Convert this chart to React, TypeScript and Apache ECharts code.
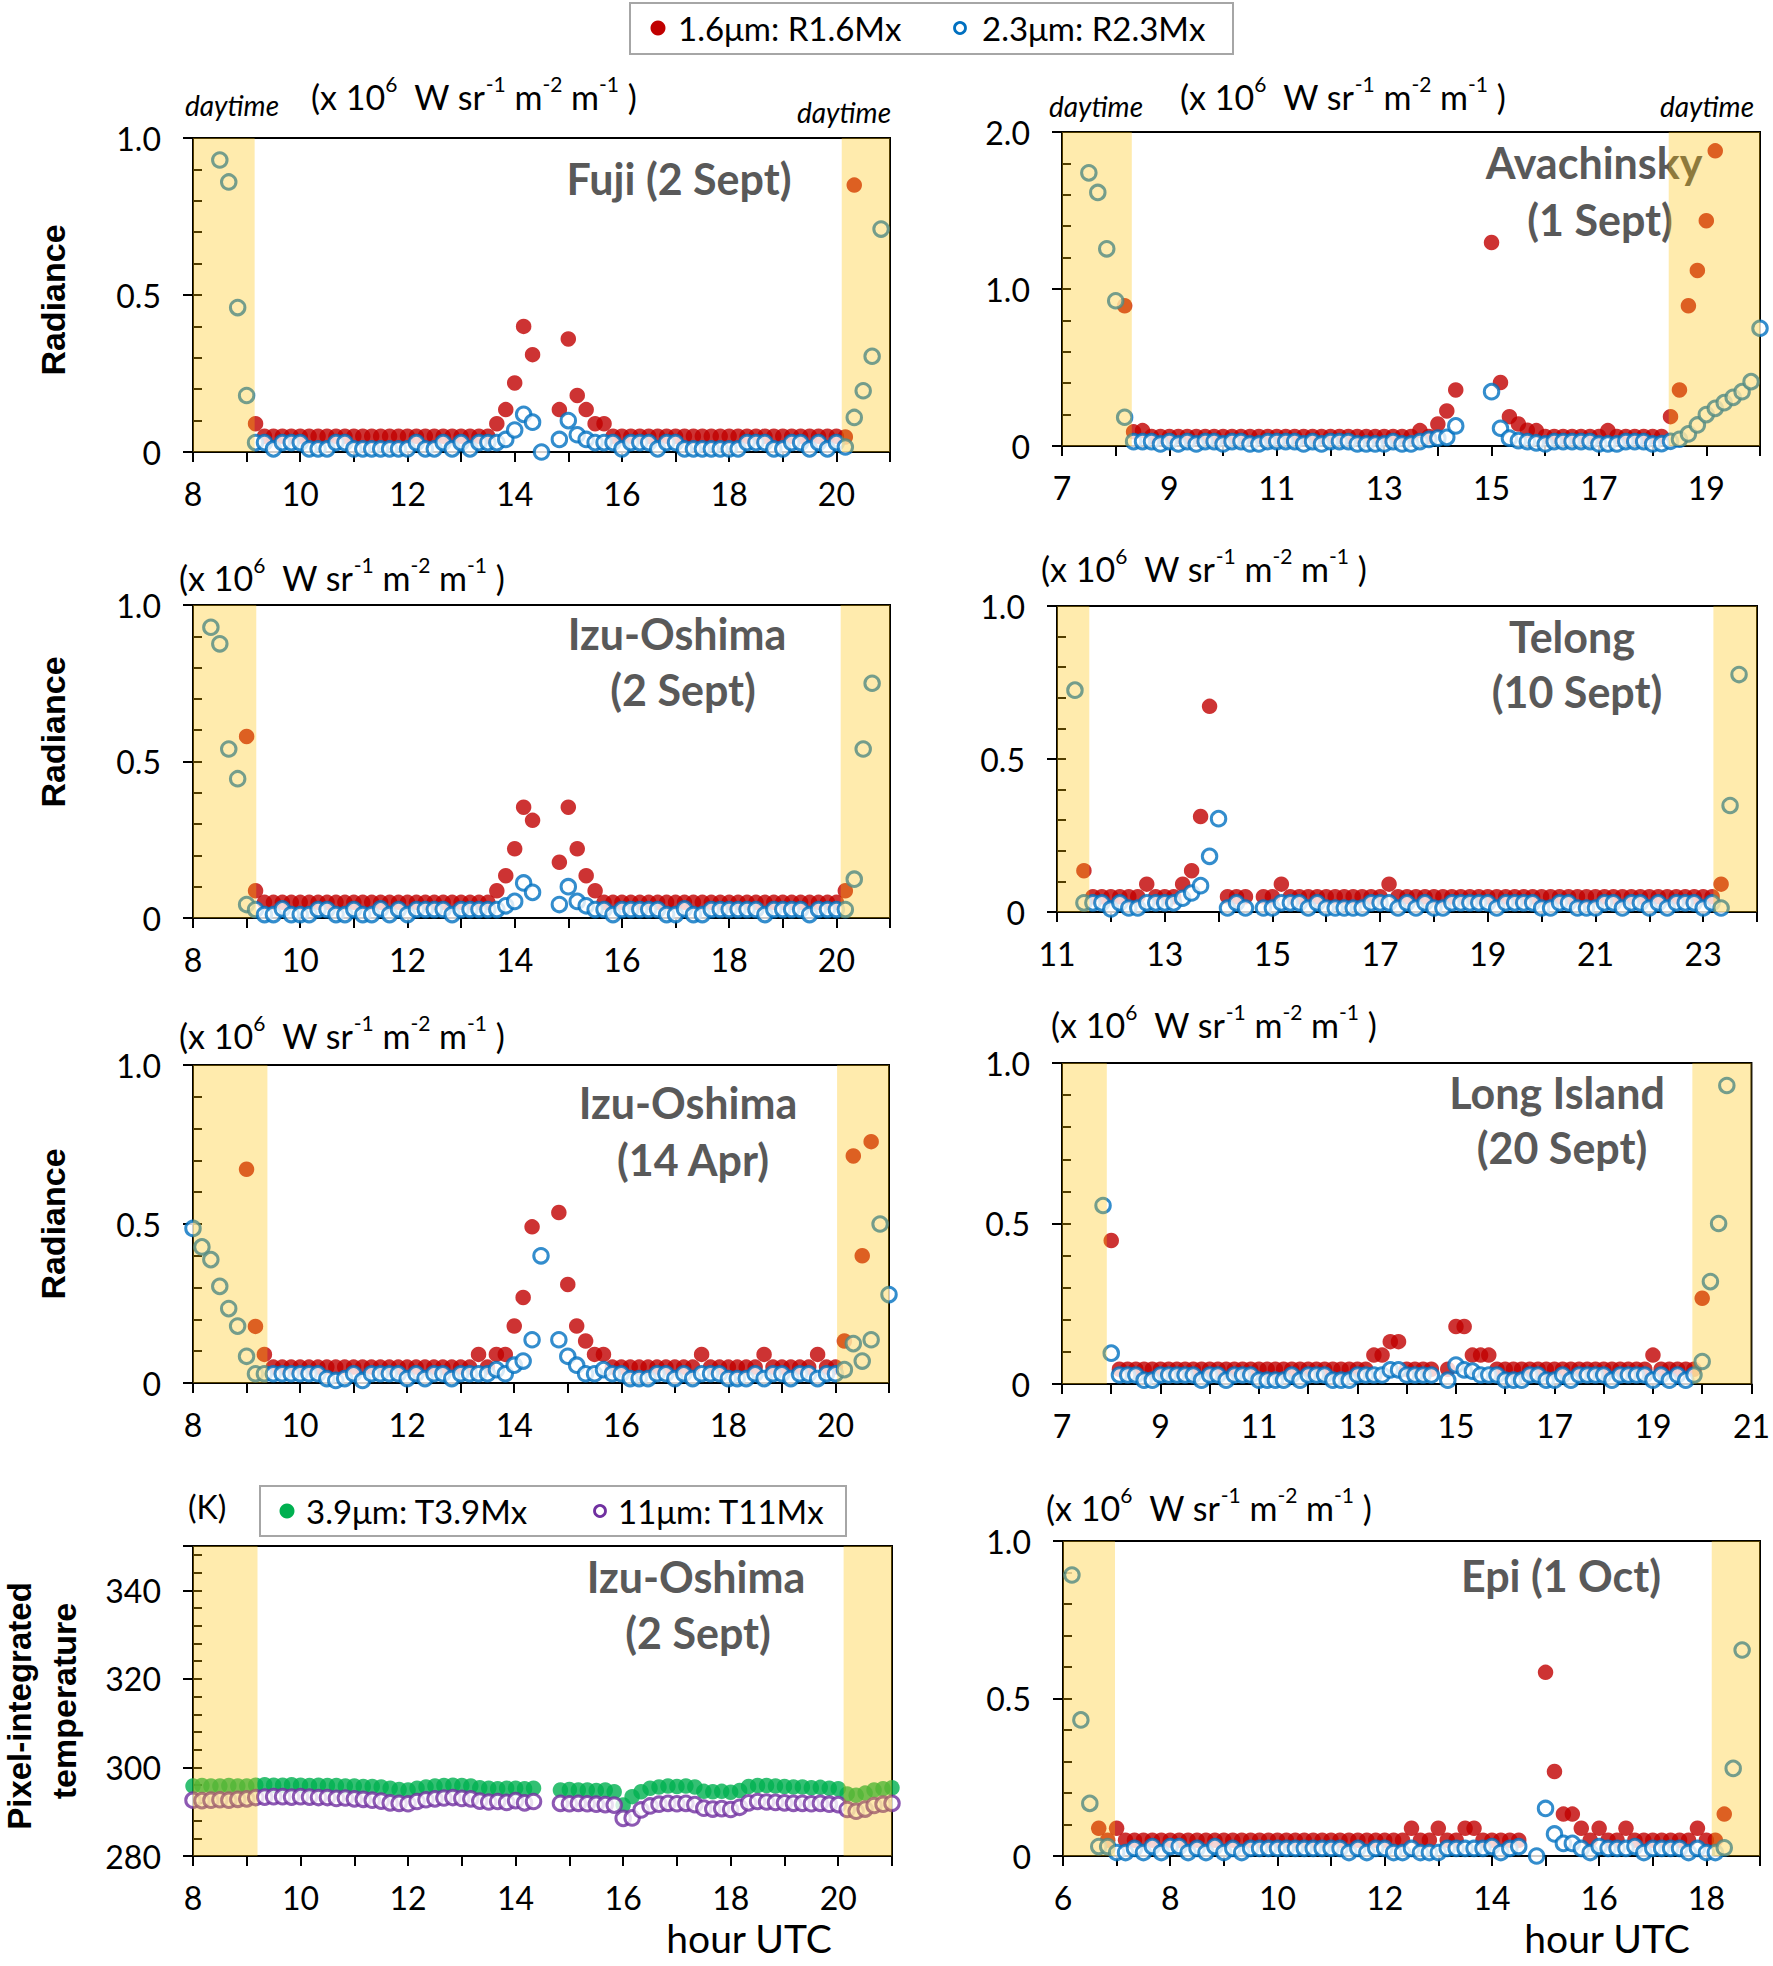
import React, { useEffect, useRef } from 'react';
import * as echarts from 'echarts';

// ---------------- DATA (10-minute samples; start = minutes after 00:00 UTC) ----------------
// Fuji (2 Sept)
const fujiStart = 510;
const fujiR16 = [null, null, null, null, 0.09,
  0.05, 0.05, 0.05, 0.05, 0.05, 0.05, 0.05, 0.05, 0.05, 0.05, 0.05, 0.05, 0.05,
  0.05, 0.05, 0.05, 0.05, 0.05, 0.05, 0.05, 0.05, 0.05, 0.05, 0.05, 0.05, 0.05,
  0.09, 0.135, 0.22, 0.40, 0.31, null, null, 0.135, 0.36, 0.18, 0.135, 0.09, 0.09, 0.05, 0.05,
  0.05, 0.05, 0.05, 0.05, 0.05, 0.05, 0.05, 0.05, 0.05, 0.05, 0.05, 0.05,
  0.05, 0.05, 0.05, 0.05, 0.05, 0.05, 0.05, 0.05, 0.05, 0.05, 0.05, 0.05,
  0.048, 0.85, null, null, null];
const fujiR23 = [0.93, 0.86, 0.46, 0.18, 0.03,
  0.03, 0.01, 0.03, 0.03, 0.03, 0.01, 0.01, 0.01, 0.03, 0.03, 0.01, 0.01, 0.01,
  0.01, 0.01, 0.01, 0.01, 0.03, 0.01, 0.01, 0.03, 0.01, 0.03, 0.01, 0.03, 0.03,
  0.03, 0.04, 0.07, 0.12, 0.095, 0.0, null, 0.04, 0.10, 0.055, 0.04, 0.03, 0.03, 0.03, 0.01,
  0.03, 0.03, 0.03, 0.01, 0.03, 0.03, 0.01, 0.01, 0.01, 0.01, 0.01, 0.01,
  0.01, 0.03, 0.03, 0.03, 0.01, 0.01, 0.03, 0.03, 0.01, 0.03, 0.01, 0.03,
  0.016, 0.11, 0.195, 0.305, 0.71];
const fujiDay = [[8, 9.15], [20.1, 21]];

// Avachinsky (1 Sept)
const avaStart = 450;
const avaR16 = [null, null, null, null, 0.893, 0.09, 0.098,
  0.06, 0.06, 0.06, 0.06, 0.06, 0.06, 0.06, 0.06, 0.06, 0.06, 0.06, 0.06, 0.06, 0.06, 0.06,
  0.06, 0.06, 0.06, 0.06, 0.06, 0.06, 0.06, 0.06, 0.06, 0.06, 0.06, 0.06, 0.06, 0.06, 0.06,
  0.098, 0.06, 0.14, 0.223, 0.357, null, null, null,
  1.296, 0.404, 0.187, 0.14, 0.10, 0.098,
  0.06, 0.06, 0.06, 0.06, 0.06, 0.06, 0.06, 0.098,
  0.06, 0.06, 0.06, 0.06, 0.06, 0.06,
  0.187, 0.357, 0.893, 1.118, 1.435, 1.88, null, null, null, null, null];
const avaR23 = [1.74, 1.615, 1.256, 0.925, 0.183, 0.028,
  0.028, 0.028, 0.013, 0.028, 0.013, 0.028, 0.013, 0.028, 0.028, 0.013, 0.028,
  0.028, 0.013, 0.013, 0.028, 0.028, 0.028, 0.028, 0.013, 0.028, 0.013, 0.028,
  0.028, 0.028, 0.013, 0.013, 0.013, 0.013, 0.028, 0.013, 0.013, 0.028, 0.042,
  0.05, 0.055, 0.128, null, null, null,
  0.346, 0.113, 0.05, 0.034, 0.028, 0.02, 0.013,
  0.028, 0.028, 0.028, 0.028, 0.028, 0.013, 0.013, 0.013, 0.028, 0.028, 0.028, 0.013,
  0.015, 0.03, 0.043, 0.077, 0.134, 0.2, 0.24, 0.276, 0.31, 0.346, 0.41, 0.75];
const avaDay = [[7, 8.3], [18.3, 20]];

// Izu-Oshima (2 Sept)
const izuSStart = 500;
const izuSR16 = [null, null, null, null, 0.58, 0.087,
  0.05, 0.05, 0.05, 0.05, 0.05, 0.05, 0.05, 0.05, 0.05, 0.05, 0.05, 0.05, 0.05,
  0.05, 0.05, 0.05, 0.05, 0.05, 0.05, 0.05, 0.05, 0.05, 0.05, 0.05, 0.05, 0.05,
  0.087, 0.135, 0.221, 0.354, 0.312, null, null, 0.178, 0.354, 0.221, 0.135, 0.087, 0.05, 0.05,
  0.05, 0.05, 0.05, 0.05, 0.05, 0.05, 0.05, 0.05, 0.05, 0.05, 0.05, 0.05, 0.05,
  0.05, 0.05, 0.05, 0.05, 0.05, 0.05, 0.05, 0.05, 0.05, 0.05, 0.05, 0.05,
  0.087, null, null, null];
const izuSR23 = [0.929, 0.876, 0.54, 0.445, 0.043, 0.027,
  0.011, 0.011, 0.029, 0.011, 0.011, 0.011, 0.027, 0.027, 0.011, 0.011, 0.027, 0.011, 0.011,
  0.029, 0.011, 0.027, 0.011, 0.027, 0.027, 0.027, 0.027, 0.011, 0.027, 0.027, 0.027, 0.027,
  0.027, 0.039, 0.053, 0.112, 0.082, null, null, 0.043, 0.10, 0.053, 0.039, 0.027, 0.027, 0.011,
  0.027, 0.027, 0.027, 0.027, 0.027, 0.011, 0.011, 0.029, 0.011, 0.011, 0.027, 0.027, 0.027,
  0.027, 0.027, 0.027, 0.011, 0.027, 0.027, 0.027, 0.027, 0.011, 0.027, 0.027, 0.027,
  0.027, 0.124, 0.54, 0.75];
const izuSDay = [[8, 9.18], [20.08, 21]];

// Telong (10 Sept)
const telStart = 680;
const telR16 = [null, 0.135, 0.05, 0.05, 0.05, 0.05, 0.05, 0.05, 0.091, 0.05, 0.05, 0.05,
  0.091, 0.135, 0.312, 0.672, null, 0.05, 0.05, 0.05, null, 0.05, 0.05, 0.091,
  0.05, 0.05, 0.05, 0.05, 0.05, 0.05, 0.05, 0.05, 0.05, 0.05, 0.05, 0.091,
  0.05, 0.05, 0.05, 0.05, 0.05, 0.05, 0.05, 0.05, 0.05, 0.05, 0.05, 0.05,
  0.05, 0.05, 0.05, 0.05, 0.05, 0.05, 0.05, 0.05, 0.05, 0.05, 0.05, 0.05,
  0.05, 0.05, 0.05, 0.05, 0.05, 0.05, 0.05, 0.05, 0.05, 0.05, 0.05, 0.05,
  0.091, null, null];
const telR23 = [0.725, 0.03, 0.03, 0.03, 0.01, 0.03, 0.013, 0.013, 0.03, 0.03, 0.03, 0.03,
  0.045, 0.062, 0.086, 0.182, 0.305, 0.013, 0.03, 0.013, null, 0.013, 0.013, 0.03,
  0.03, 0.03, 0.013, 0.03, 0.013, 0.013, 0.013, 0.013, 0.013, 0.03, 0.03, 0.03,
  0.013, 0.03, 0.013, 0.03, 0.013, 0.013, 0.03, 0.03, 0.03, 0.03, 0.03, 0.013,
  0.03, 0.03, 0.03, 0.03, 0.013, 0.013, 0.03, 0.03, 0.013, 0.013, 0.013, 0.03,
  0.03, 0.013, 0.03, 0.03, 0.013, 0.03, 0.013, 0.03, 0.03, 0.03, 0.013, 0.03,
  0.013, 0.348, 0.776];
const telDay = [[11, 11.6], [23.19, 24]];

// Izu-Oshima (14 Apr)
const izuAStart = 480;
const izuAR16 = [null, null, null, null, null, null, 0.672, 0.178, 0.09,
  0.05, 0.05, 0.05, 0.05, 0.05, 0.05, 0.05, 0.05, 0.05, 0.05, 0.05, 0.05,
  0.05, 0.05, 0.05, 0.05, 0.05, 0.05, 0.05, 0.05, 0.05, 0.05, 0.05,
  0.09, 0.05, 0.09, 0.09, 0.179, 0.269, 0.491, null, null, 0.536, 0.31, 0.179, 0.132, 0.09, 0.09,
  0.05, 0.05, 0.05, 0.05, 0.05, 0.05, 0.05, 0.05, 0.05, 0.05, 0.09,
  0.05, 0.05, 0.05, 0.05, 0.05, 0.05, 0.09, 0.05, 0.05, 0.05, 0.05, 0.05, 0.09, 0.05, 0.05,
  0.132, 0.714, 0.40, 0.759, null, null];
const izuAR23 = [0.486, 0.428, 0.388, 0.304, 0.234, 0.179, 0.084, 0.029, 0.029,
  0.029, 0.029, 0.029, 0.029, 0.029, 0.029, 0.014, 0.008, 0.014, 0.029, 0.008, 0.029, 0.029,
  0.029, 0.029, 0.014, 0.029, 0.014, 0.029, 0.029, 0.014, 0.029, 0.029, 0.029, 0.029,
  0.042, 0.029, 0.056, 0.069, 0.136, 0.40, null, 0.136, 0.084, 0.056, 0.029, 0.029, 0.042,
  0.029, 0.029, 0.014, 0.014, 0.014, 0.029, 0.029, 0.014, 0.029, 0.014, 0.029, 0.029, 0.029,
  0.014, 0.014, 0.014, 0.029, 0.014, 0.029, 0.029, 0.014, 0.029, 0.029, 0.014, 0.029, 0.029,
  0.042, 0.124, 0.069, 0.136, 0.50, 0.278];
const izuADay = [[8, 9.39], [20.03, 21]];

// Long Island (20 Sept)
const liStart = 470;
const liR16 = [null, 0.447,
  0.046, 0.046, 0.046, 0.046, 0.046, 0.046, 0.046, 0.046, 0.046, 0.046, 0.046,
  0.046, 0.046, 0.046, 0.046, 0.046, 0.046, 0.046, 0.046, 0.046, 0.046, 0.046,
  0.046, 0.046, 0.046, 0.046, 0.046, 0.046, 0.046, 0.046, 0.046,
  0.09, 0.09, 0.132, 0.132, 0.046, 0.046, 0.046, 0.046, null, 0.046,
  0.179, 0.179, 0.09, 0.09, 0.09,
  0.046, 0.046, 0.046, 0.046, 0.046, 0.046, 0.046, 0.046, 0.046, 0.046,
  0.046, 0.046, 0.046, 0.046, 0.046, 0.046, 0.046, 0.046, 0.046,
  0.09, 0.046, 0.046, 0.046, 0.046, 0.046, 0.267, null, null, null];
const liR23 = [0.556, 0.096,
  0.028, 0.028, 0.028, 0.012, 0.012, 0.028, 0.028, 0.028, 0.028, 0.028, 0.012, 0.028, 0.028,
  0.012, 0.028, 0.028, 0.028, 0.012, 0.012, 0.012, 0.012, 0.028, 0.012, 0.028, 0.028, 0.028,
  0.012, 0.012, 0.012, 0.028, 0.028, 0.028, 0.028, 0.044, 0.044, 0.028, 0.028, 0.028, 0.028,
  null, 0.012, 0.059, 0.044, 0.04, 0.028, 0.028, 0.028,
  0.012, 0.012, 0.012, 0.028, 0.028, 0.012, 0.012, 0.028, 0.012, 0.028, 0.028, 0.028,
  0.028, 0.012, 0.028, 0.028, 0.028, 0.028, 0.012, 0.028, 0.012, 0.028, 0.012, 0.028,
  0.07, 0.319, 0.50, 0.93];
const liDay = [[7, 7.91], [19.8, 21]];

// Izu-Oshima (2 Sept) pixel-integrated temperature (K)
const tempStart = 480;
const tempT39 = [295.8, 295.9, 295.8, 295.8, 295.9, 295.8, 295.8,
  296.0, 296.1, 296.0, 296.0, 296.1, 296.0, 295.9, 296.0, 295.9,
  295.9, 295.8, 295.8, 295.7, 295.7, 295.6,
  295.3, 295.0, 294.9,
  295.3, 295.6, 295.8, 295.9, 296.0, 295.9, 295.8,
  295.4, 295.3, 295.2, 295.3, 295.3, 295.2, 295.3,
  null, null,
  294.9, 295.0, 294.9, 294.9, 294.8, 294.9,
  294.5, 291.5, 293.4, 294.5,
  295.3, 295.6, 295.8, 295.7, 295.8, 295.6,
  294.6, 294.5, 294.6, 294.4, 294.8,
  295.7, 295.9, 295.9, 295.8, 295.7, 295.6, 295.6,
  295.4, 295.5, 295.3, 295.2,
  294.0, 293.7, 294.2,
  294.9, 295.2, 295.4];
const tempT11 = [292.6, 292.5, 292.6, 292.7, 292.6, 292.8, 292.9,
  293.2, 293.3, 293.4, 293.4, 293.3, 293.4, 293.3, 293.2, 293.2,
  293.0, 293.1, 292.9, 292.8, 292.6, 292.4,
  292.0, 291.9, 291.8,
  292.3, 292.7, 292.9, 293.1, 293.2, 293.0, 292.9,
  292.4, 292.2, 292.3, 292.1, 292.5, 292.0, 292.3,
  null, null,
  291.9, 291.8, 291.9, 291.8, 291.7, 291.6,
  291.5, 288.5, 288.6, 290.4,
  291.3, 291.7, 291.9, 291.8, 291.9, 291.6,
  290.8, 290.6, 290.7, 290.5, 291.0,
  292.0, 292.3, 292.2, 292.1, 292.0, 291.9, 291.9,
  291.8, 291.9, 291.7, 291.6,
  290.5, 290.1, 290.6,
  291.4, 291.7, 291.9];
const tempDay = [[8, 9.2], [20.1, 21]];

// Epi (1 Oct)
const epiStart = 370;
const epiR16 = [null, null, null, 0.088, 0.05, 0.088,
  0.05, 0.05, 0.05, 0.05, 0.05, 0.05, 0.05, 0.05, 0.05, 0.05, 0.05, 0.05, 0.05, 0.05, 0.05, 0.05,
  0.05, 0.05, 0.05, 0.05, 0.05, 0.05, 0.05, 0.05, 0.05, 0.05, 0.05, 0.05, 0.05, 0.05, 0.05, 0.05,
  0.088, 0.05, 0.05, 0.088, 0.05, 0.05, 0.088, 0.088, 0.05, 0.05, 0.05, 0.05, 0.05,
  null, null, 0.583, 0.268, 0.133, 0.133, 0.088, 0.05, 0.088, 0.05, 0.05, 0.088,
  0.05, 0.05, 0.05, 0.05, 0.05, 0.05, 0.05, 0.088, 0.05, 0.05, 0.133, null, null];
const epiR23 = [0.892, 0.432, 0.167, 0.03, 0.03, 0.011,
  0.011, 0.024, 0.011, 0.03, 0.011, 0.03, 0.03, 0.011, 0.024, 0.011, 0.03, 0.011, 0.024, 0.011, 0.024,
  0.024, 0.024, 0.024, 0.024, 0.024, 0.024, 0.024, 0.024, 0.024, 0.024, 0.011, 0.024, 0.011, 0.024,
  0.024, 0.011, 0.011, 0.024, 0.011, 0.011, 0.011, 0.024, 0.024, 0.024, 0.024, 0.024, 0.03, 0.011,
  0.024, 0.03,
  null, 0, 0.151, 0.07, 0.04, 0.04, 0.024, 0.011,
  0.03, 0.024, 0.024, 0.024, 0.03, 0.011, 0.024, 0.024, 0.024, 0.024, 0.011, 0.024, 0.011, 0.011,
  0.026, 0.278, 0.654];
const epiDay = [[6, 6.97], [18.1, 19]];

// ---------------- STYLE / LAYOUT ----------------
const RED = '#C00000';
const BLUE = '#0070C0';
const GREEN = '#00B050';
const PURPLE = '#7030A0';
const SHADE = 'rgba(255,192,0,0.32)';
const FONT = 'Lato, "Noto Sans", sans-serif';
const BOLD_FONT = '"Liberation Sans", Arial, sans-serif';

type Panel = {
  grid: { left: number; top: number; width: number; height: number };
  xMin: number; xMax: number;
  yMin: number; yMax: number; yMinor: number; yMajor: number;
  temp?: boolean;
  day: number[][];
  start: number;
  a: (number | null)[];
  b: (number | null)[];
};

const PANELS: Panel[] = [
  { grid: { left: 193, top: 138, width: 697, height: 314 }, xMin: 8, xMax: 21, yMin: 0, yMax: 1, yMinor: 0.1, yMajor: 0.5, day: fujiDay, start: fujiStart, a: fujiR16, b: fujiR23 },
  { grid: { left: 1062, top: 132, width: 698, height: 314 }, xMin: 7, xMax: 20, yMin: 0, yMax: 2, yMinor: 0.2, yMajor: 1, day: avaDay, start: avaStart, a: avaR16, b: avaR23 },
  { grid: { left: 193, top: 605, width: 697, height: 313 }, xMin: 8, xMax: 21, yMin: 0, yMax: 1, yMinor: 0.1, yMajor: 0.5, day: izuSDay, start: izuSStart, a: izuSR16, b: izuSR23 },
  { grid: { left: 1057, top: 606, width: 700, height: 306 }, xMin: 11, xMax: 24, yMin: 0, yMax: 1, yMinor: 0.1, yMajor: 0.5, day: telDay, start: telStart, a: telR16, b: telR23 },
  { grid: { left: 193, top: 1065, width: 696, height: 318 }, xMin: 8, xMax: 21, yMin: 0, yMax: 1, yMinor: 0.1, yMajor: 0.5, day: izuADay, start: izuAStart, a: izuAR16, b: izuAR23 },
  { grid: { left: 1062, top: 1063, width: 695, height: 321 }, xMin: 7, xMax: 21, yMin: 0, yMax: 1, yMinor: 0.1, yMajor: 0.5, day: liDay, start: liStart, a: liR16, b: liR23 },
  { grid: { left: 193, top: 1546, width: 699, height: 310 }, xMin: 8, xMax: 21, yMin: 280, yMax: 350, yMinor: 4, yMajor: 20, temp: true, day: tempDay, start: tempStart, a: tempT39, b: tempT11 },
  { grid: { left: 1063, top: 1541, width: 697, height: 315 }, xMin: 6, xMax: 19, yMin: 0, yMax: 1, yMinor: 0.1, yMajor: 0.5, day: epiDay, start: epiStart, a: epiR16, b: epiR23 },
];

function toPoints(start: number, vals: (number | null)[]) {
  const out: number[][] = [];
  vals.forEach((v, i) => {
    if (v !== null && v !== undefined) out.push([(start + 10 * i) / 60, v]);
  });
  return out;
}

function txt(text: string, x: number, y: number, o: any = {}) {
  return {
    type: 'text', x, y, z: o.z ?? 30, rotation: o.rotation ?? 0, silent: true,
    style: {
      text, fill: o.fill ?? '#000', fontSize: o.size ?? 29, fontFamily: o.family ?? FONT,
      fontWeight: o.weight ?? 'normal', fontStyle: o.fontStyle ?? 'normal',
      textAlign: o.align ?? 'left', align: o.align ?? 'left',
      textVerticalAlign: 'middle', verticalAlign: 'middle',
    },
  };
}

function unitText(x: number, y: number) {
  return {
    type: 'text', x, y, z: 30, silent: true,
    style: {
      text: '{n|(x 10}{s|6}{n|  W sr}{s|-1}{n| m}{s|-2}{n| m}{s|-1}{n| )}',
      textAlign: 'left', align: 'left', textVerticalAlign: 'middle', verticalAlign: 'middle',
      rich: {
        n: { fontSize: 34, fontFamily: FONT, fill: '#000', lineHeight: 40, verticalAlign: 'bottom' },
        s: { fontSize: 21, fontFamily: FONT, fill: '#000', lineHeight: 22, verticalAlign: 'top' },
      },
    },
  };
}

function title(text: string, x: number, y: number) {
  return txt(text, x, y, { size: 43, weight: 'bold', fill: '#595959', align: 'center', z: 1 });
}

function buildOption() {
  const grid: any[] = [];
  const xAxis: any[] = [];
  const yAxis: any[] = [];
  const series: any[] = [];

  PANELS.forEach((p, k) => {
    grid.push({ ...p.grid, show: true, borderColor: '#000', borderWidth: 2, backgroundColor: 'transparent' });
    xAxis.push({
      type: 'value', gridIndex: k, min: p.xMin, max: p.xMax, interval: 1,
      axisLine: { show: true, onZero: false, lineStyle: { color: '#000', width: 2 } },
      axisTick: { show: true, inside: false, length: 10, lineStyle: { color: '#000', width: 2 } },
      axisLabel: {
        show: true, margin: 25, fontSize: 32, fontFamily: FONT, color: '#000',
        formatter: (v: number) => (Math.round(v - p.xMin) % 2 === 0 ? String(v) : ''),
      },
      splitLine: { show: false },
    });
    // inner axis: line + inward minor ticks
    yAxis.push({
      type: 'value', gridIndex: k, min: p.yMin, max: p.yMax, interval: p.yMinor, position: 'left',
      axisLine: { show: true, onZero: false, lineStyle: { color: '#000', width: 2 } },
      axisTick: { show: true, inside: true, length: 9, lineStyle: { color: '#000', width: 2 } },
      axisLabel: { show: false },
      splitLine: { show: false },
    });
    // outer axis: major ticks + labels
    yAxis.push({
      type: 'value', gridIndex: k, min: p.yMin, max: p.yMax, interval: p.yMajor, position: 'left',
      axisLine: { show: false, onZero: false },
      axisTick: { show: true, inside: false, length: 10, lineStyle: { color: '#000', width: 2 } },
      axisLabel: {
        show: true, margin: 32, fontSize: 32, fontFamily: FONT, color: '#000',
        formatter: (v: number) => {
          if (p.temp) return v > 340 ? '' : String(Math.round(v));
          return Math.abs(v) < 1e-9 ? '0' : v.toFixed(1);
        },
      },
      splitLine: { show: false },
    });
    const yi = 2 * k;
    series.push({
      type: 'scatter', name: p.temp ? '3.9µm: T3.9Mx' : '1.6µm: R1.6Mx', xAxisIndex: k, yAxisIndex: yi, z: 2,
      symbol: 'circle', symbolSize: 15.5, silent: true,
      itemStyle: { color: p.temp ? GREEN : RED },
      data: toPoints(p.start, p.a),
    });
    series.push({
      type: 'scatter', name: p.temp ? '11µm: T11Mx' : '2.3µm: R2.3Mx', xAxisIndex: k, yAxisIndex: yi, z: 3,
      symbol: 'circle', symbolSize: 14.5, silent: true,
      itemStyle: { color: '#fff', borderColor: p.temp ? PURPLE : BLUE, borderWidth: 3 },
      data: toPoints(p.start, p.b),
    });
    series.push({
      type: 'custom', xAxisIndex: k, yAxisIndex: yi, z: 5, silent: true,
      data: p.day.map((d) => [d[0], d[1], p.yMin, p.yMax]),
      encode: { x: [0, 1], y: [2, 3] },
      renderItem: (params: any, api: any) => {
        const a = api.coord([api.value(0), api.value(3)]);
        const b = api.coord([api.value(1), api.value(2)]);
        return {
          type: 'rect',
          shape: { x: a[0], y: a[1], width: b[0] - a[0], height: b[1] - a[1] },
          style: { fill: SHADE },
        };
      },
    });
  });

  const graphic: any[] = [
    // legend 1
    { type: 'rect', z: 20, silent: true, shape: { x: 630, y: 3, width: 603, height: 51 }, style: { fill: '#fff', stroke: '#a6a6a6', lineWidth: 2 } },
    { type: 'circle', z: 21, silent: true, shape: { cx: 658, cy: 28, r: 7.5 }, style: { fill: RED } },
    txt('1.6μm: R1.6Mx', 678, 28, { size: 33 }),
    { type: 'circle', z: 21, silent: true, shape: { cx: 960, cy: 28, r: 5.5 }, style: { fill: '#fff', stroke: BLUE, lineWidth: 2.8 } },
    txt('2.3μm: R2.3Mx', 982, 28, { size: 33 }),
    // legend 2
    { type: 'rect', z: 20, silent: true, shape: { x: 260, y: 1486, width: 586, height: 50 }, style: { fill: '#fff', stroke: '#a6a6a6', lineWidth: 2 } },
    { type: 'circle', z: 21, silent: true, shape: { cx: 287, cy: 1511, r: 7.5 }, style: { fill: GREEN } },
    txt('3.9μm: T3.9Mx', 306, 1511, { size: 33 }),
    { type: 'circle', z: 21, silent: true, shape: { cx: 600, cy: 1511, r: 5.5 }, style: { fill: '#fff', stroke: PURPLE, lineWidth: 2.8 } },
    txt('11μm: T11Mx', 618, 1511, { size: 33 }),
    txt('(K)', 188, 1506, { size: 32 }),
    // units
    unitText(311, 93),
    unitText(1180, 93),
    unitText(179, 574),
    unitText(1041, 565),
    unitText(179, 1032),
    unitText(1051, 1021),
    unitText(1046, 1504),
    // daytime labels
    txt('daytime', 185, 105, { size: 28, fontStyle: 'italic' }),
    txt('daytime', 797, 112, { size: 28, fontStyle: 'italic' }),
    txt('daytime', 1049, 106, { size: 28, fontStyle: 'italic' }),
    txt('daytime', 1660, 106, { size: 28, fontStyle: 'italic' }),
    // panel titles
    title('Fuji (2 Sept)', 679, 178),
    title('Avachinsky', 1594, 162),
    title('(1 Sept)', 1600, 219),
    title('Izu-Oshima', 677, 633),
    title('(2 Sept)', 683, 689),
    title('Telong', 1572, 636),
    title('(10 Sept)', 1577, 691),
    title('Izu-Oshima', 688, 1102),
    title('(14 Apr)', 693, 1159),
    title('Long Island', 1557, 1092),
    title('(20 Sept)', 1562, 1147),
    title('Izu-Oshima', 696, 1576),
    title('(2 Sept)', 698, 1632),
    title('Epi (1 Oct)', 1561, 1575),
    // y-axis titles
    txt('Radiance', 53, 300, { size: 34, weight: 'bold', family: BOLD_FONT, align: 'center', rotation: Math.PI / 2 }),
    txt('Radiance', 53, 732, { size: 34, weight: 'bold', family: BOLD_FONT, align: 'center', rotation: Math.PI / 2 }),
    txt('Radiance', 53, 1224, { size: 34, weight: 'bold', family: BOLD_FONT, align: 'center', rotation: Math.PI / 2 }),
    txt('Pixel-integrated', 19, 1706, { size: 33, weight: 'bold', family: BOLD_FONT, align: 'center', rotation: Math.PI / 2 }),
    txt('temperature', 64, 1701, { size: 34, weight: 'bold', family: BOLD_FONT, align: 'center', rotation: Math.PI / 2 }),
    // x-axis titles
    txt('hour UTC', 749, 1938, { size: 39, align: 'center' }),
    txt('hour UTC', 1607, 1938, { size: 39, align: 'center' }),
  ];

  return {
    animation: false,
    backgroundColor: '#fff',
    grid, xAxis, yAxis, series, graphic,
  };
}

export default function App() {
  const ref = useRef<HTMLDivElement>(null);
  useEffect(() => {
    if (!ref.current) return;
    const chart = echarts.init(ref.current, undefined, { renderer: 'svg' });
    chart.setOption(buildOption() as any);
    return () => chart.dispose();
  }, []);
  return (
    <div
      ref={ref}
      style={{ position: 'absolute', left: 0, top: 0, width: 1773, height: 1966, background: '#fff' }}
    />
  );
}
